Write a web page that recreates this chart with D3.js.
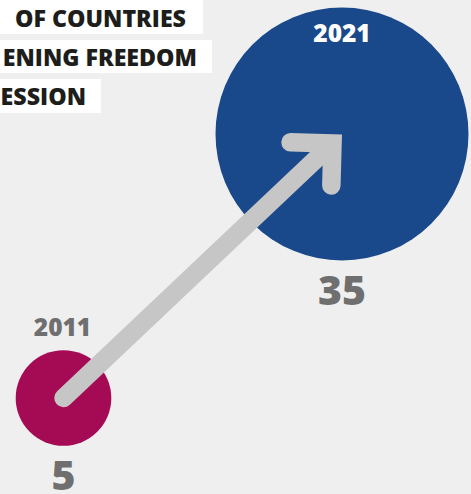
<!DOCTYPE html>
<html><head><meta charset="utf-8">
<script src="https://cdn.jsdelivr.net/npm/d3@7"></script>
<style>
html,body{margin:0;padding:0;background:#efefef;overflow:hidden;}
svg{display:block;}
</style></head>
<body>
<svg id="chart" width="471" height="494"></svg>
<script>
// Data
const years = [2011, 2021];
const values = [5, 35];
const colors = ["#a50a55", "#19498b"];
const titleLines = ["OF COUNTRIES", "ENING FREEDOM", "ESSION"];

const W = 471, H = 494;
const svg = d3.select("#chart");
svg.append("rect").attr("width", W).attr("height", H).attr("fill", "#efefef");

// Scales
const x = d3.scaleLinear().domain([2011, 2021]).range([63.5, 342]);
const y = d3.scaleLinear().domain([5, 35]).range([398, 134]);
const r = d3.scaleSqrt().domain([0, 35]).range([0, 126.5]);

const FONT = "'Open Sans', 'Noto Sans', sans-serif";

// Title boxes (clipped on the left)
const titleRight = [186, 197, 86];
const titleBase = [26.5, 65.5, 104.5];
const boxes = [[0, 34, 203], [40, 73, 212], [79, 113, 101]];
const tg = svg.append("g");
titleLines.forEach((t, i) => {
  tg.append("rect").attr("x", -5).attr("y", boxes[i][0] - (i === 0 ? 5 : 0))
    .attr("width", boxes[i][2] + 5).attr("height", boxes[i][1] - boxes[i][0] + (i === 0 ? 5 : 0))
    .attr("fill", "#ffffff");
  tg.append("text").attr("x", titleRight[i]).attr("y", titleBase[i])
    .attr("text-anchor", "end").attr("font-family", FONT).attr("font-weight", 800)
    .attr("font-size", 23.2).attr("fill", "#1d1d1b").text(t);
});

const data = years.map((yr, i) => ({ year: yr, value: values[i], color: colors[i] }));

// Circles
svg.selectAll("circle.bubble").data(data).enter().append("circle")
  .attr("class", "bubble")
  .attr("cx", d => x(d.year)).attr("cy", d => y(d.value))
  .attr("r", d => r(d.value)).attr("fill", d => d.color);

// Arrow
const x0 = x(years[0]), y0 = y(values[0]);
const x1 = x(years[1]), y1 = y(values[1]);
const sw = 18.5;
const tipX = x1 - 9.5, tipY = y1 + 9.5;
const ang = Math.atan2(tipY - y0, tipX - x0);
const armLen = 42;
const a1 = ang + Math.PI - Math.PI / 4, a2 = ang + Math.PI + Math.PI / 4;
const ag = svg.append("g").attr("fill", "none").attr("stroke", "#c6c6c6")
  .attr("stroke-width", sw).attr("stroke-linecap", "round");
ag.append("path").attr("d", d3.line()([[x0, y0], [tipX - 4 * Math.cos(ang), tipY - 4 * Math.sin(ang)]]));
ag.append("path").attr("stroke-linejoin", "miter").attr("stroke-miterlimit", 10)
  .attr("d", d3.line()([
    [tipX + armLen * Math.cos(a1), tipY + armLen * Math.sin(a1)],
    [tipX, tipY],
    [tipX + armLen * Math.cos(a2), tipY + armLen * Math.sin(a2)]
  ]));

// Year labels
svg.append("text").attr("x", x(2021)).attr("y", 42)
  .attr("text-anchor", "middle").attr("font-family", FONT).attr("font-weight", 800)
  .attr("font-size", 24.5).attr("fill", "#ffffff").text(years[1]);
svg.append("text").attr("x", x(2011) - 1).attr("y", 336)
  .attr("text-anchor", "middle").attr("font-family", FONT).attr("font-weight", 800)
  .attr("font-size", 24.5).attr("fill", "#6f6f6f").text(years[0]);

// Value labels
svg.append("text").attr("x", x(2021)).attr("y", 304.5)
  .attr("text-anchor", "middle").attr("font-family", FONT).attr("font-weight", 800)
  .attr("font-size", 41).attr("fill", "#6f6f6f").text(values[1]);
svg.append("text").attr("x", x(2011)).attr("y", 490)
  .attr("text-anchor", "middle").attr("font-family", FONT).attr("font-weight", 800)
  .attr("font-size", 41).attr("fill", "#6f6f6f").text(values[0]);
</script>
</body></html>
